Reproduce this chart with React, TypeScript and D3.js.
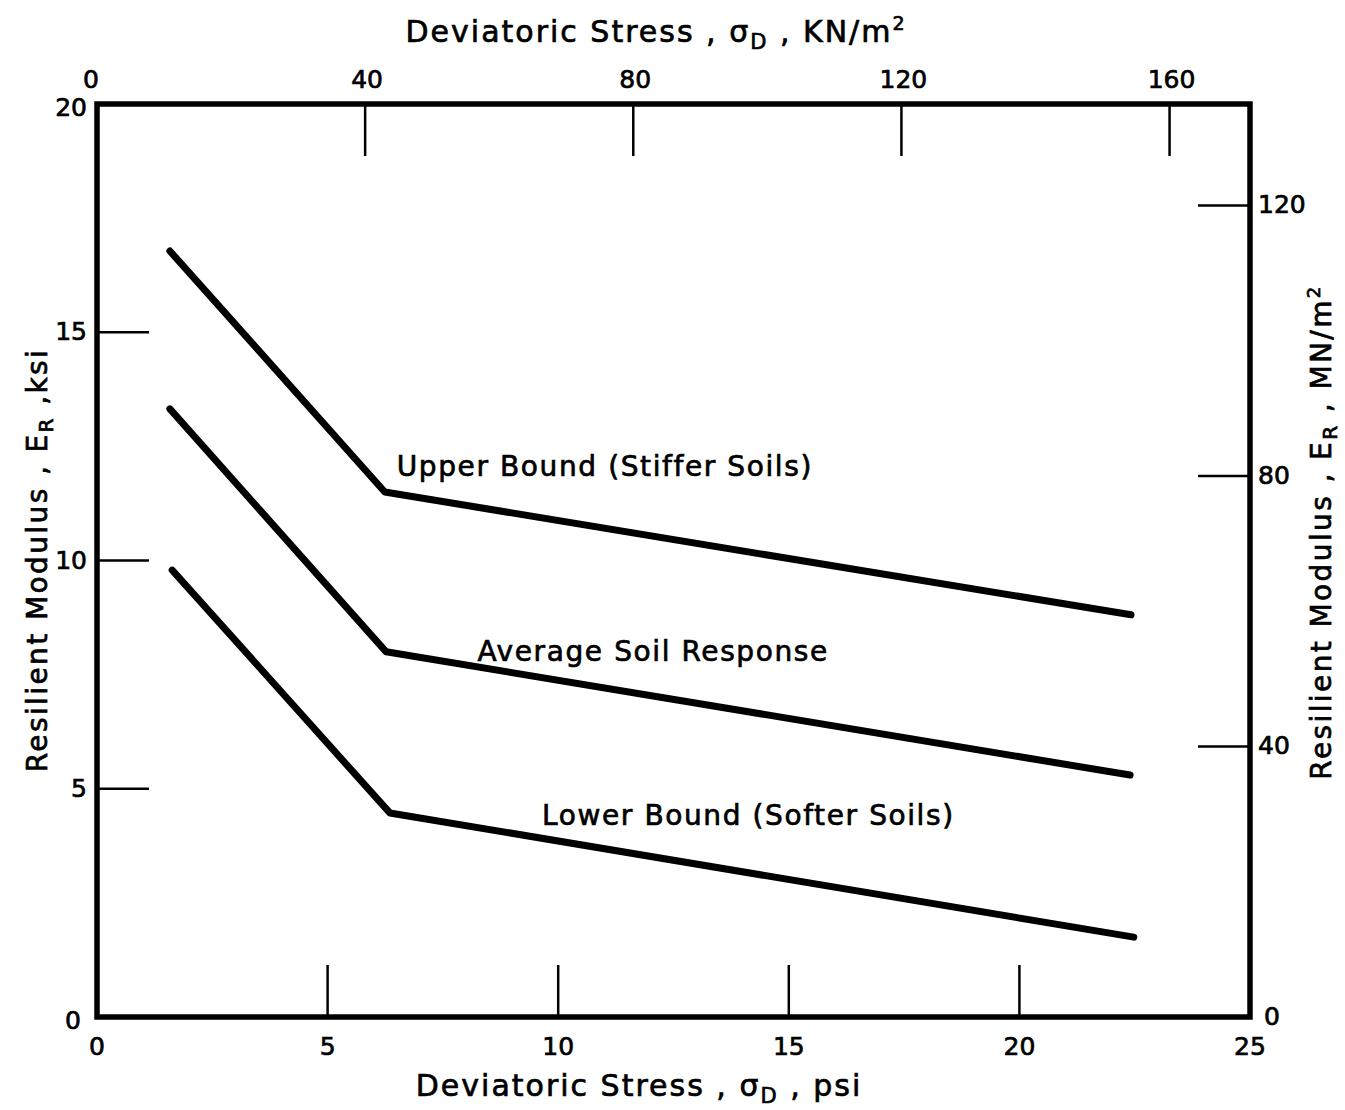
import React from 'react';
import * as d3 from 'd3';

// Deviatoric stress (psi) break points and resilient modulus (ksi) for each curve
const seriesNames = ['Upper Bound (Stiffer Soils)', 'Average Soil Response', 'Lower Bound (Softer Soils)'];
const stressPsi = [
  [1.58, 6.24, 22.42],
  [1.58, 6.27, 22.4],
  [1.63, 6.35, 22.48],
];
const modulusKsi = [
  [16.78, 11.5, 8.81],
  [13.32, 8.0, 5.3],
  [9.79, 4.47, 1.75],
];

const psiTicks = [0, 5, 10, 15, 20, 25];
const kpaTicks = [0, 40, 80, 120, 160];
const ksiTicks = [0, 5, 10, 15, 20];
const mpaTicks = [0, 40, 80, 120];

const W = 1345;
const H = 1110;
const left = 97;
const right = 1250;
const top = 104;
const bottom = 1017;
const FONT = '"DejaVu Sans", sans-serif';

const App: React.FC = () => {
  const x = d3.scaleLinear().domain([0, 25]).range([left, right]);
  const xTop = d3.scaleLinear().domain([0, 172]).range([left, right]);
  const y = d3.scaleLinear().domain([0, 20]).range([bottom, top]);
  const yRight = d3.scaleLinear().domain([0, 135]).range([bottom, top]);

  const line = d3
    .line<[number, number]>()
    .x((d) => x(d[0]))
    .y((d) => y(d[1]));

  // label anchor (start x, baseline) in data units
  const labelPos = [
    { x: 6.5, y: 11.85 },
    { x: 8.25, y: 7.8 },
    { x: 9.65, y: 4.2 },
  ];

  const tickLen = 52;
  const ink = { stroke: '#000', strokeWidth: 0.7 };

  return (
    <svg
      width={W}
      height={H}
      style={{ position: 'absolute', left: 0, top: 0, background: '#fff' }}
      fontFamily={FONT}
    >
      <rect x={0} y={0} width={W} height={H} fill="#fff" />

      {/* inner ticks: bottom psi */}
      {psiTicks.slice(1, -1).map((t) => (
        <line key={'bt' + t} x1={x(t)} x2={x(t)} y1={bottom} y2={bottom - tickLen} stroke="#000" strokeWidth={2.5} />
      ))}
      {/* top kPa */}
      {kpaTicks.slice(1).map((t) => (
        <line key={'tt' + t} x1={xTop(t)} x2={xTop(t)} y1={top} y2={top + tickLen} stroke="#000" strokeWidth={2.5} />
      ))}
      {/* left ksi */}
      {ksiTicks.slice(1, -1).map((t) => (
        <line key={'lt' + t} x1={left} x2={left + tickLen} y1={y(t)} y2={y(t)} stroke="#000" strokeWidth={2.5} />
      ))}
      {/* right MPa */}
      {mpaTicks.slice(1).map((t) => (
        <line key={'rt' + t} x1={right} x2={right - tickLen} y1={yRight(t)} y2={yRight(t)} stroke="#000" strokeWidth={2.5} />
      ))}

      <rect x={left} y={top} width={right - left} height={bottom - top} fill="none" stroke="#000" strokeWidth={5.5} />

      {/* curves */}
      {stressPsi.map((xs, i) => (
        <path
          key={'s' + i}
          d={line(xs.map((v, j) => [v, modulusKsi[i][j]] as [number, number])) || ''}
          fill="none"
          stroke="#000"
          strokeWidth={7}
          strokeLinecap="round"
          strokeLinejoin="round"
        />
      ))}

      {seriesNames.map((n, i) => (
        <text key={'n' + i} x={x(labelPos[i].x)} y={y(labelPos[i].y)} fontSize={28} letterSpacing={1.6} {...ink}>
          {n}
        </text>
      ))}

      {/* tick labels */}
      <g fontSize={25} {...ink}>
        {psiTicks.map((t) => (
          <text key={'bl' + t} x={x(t)} y={bottom + 38} textAnchor="middle">
            {t}
          </text>
        ))}
        {kpaTicks.map((t) => (
          <text key={'tl' + t} x={xTop(t) + (t === 0 ? -6 : 2)} y={top - 16} textAnchor="middle">
            {t}
          </text>
        ))}
        {ksiTicks.map((t) => (
          <text
            key={'ll' + t}
            x={t === 0 ? left - 16 : left - 10}
            y={y(t) + (t === 0 ? 12 : t === 20 ? 12 : 8)}
            textAnchor="end"
          >
            {t}
          </text>
        ))}
        {mpaTicks.map((t) => (
          <text key={'rl' + t} x={t === 0 ? right + 14 : right + 8} y={yRight(t) + 8} textAnchor="start">
            {t}
          </text>
        ))}
      </g>

      {/* axis titles */}
      <text x={656} y={42} fontSize={30} textAnchor="middle" letterSpacing={2} {...ink}>
        Deviatoric Stress , σ<tspan fontSize={21} dy={7}>D</tspan>
        <tspan dy={-7}> , KN/m</tspan>
        <tspan fontSize={19} dy={-12}>2</tspan>
      </text>
      <text x={639} y={1096} fontSize={30} textAnchor="middle" letterSpacing={2} {...ink}>
        Deviatoric Stress , σ<tspan fontSize={21} dy={7}>D</tspan>
        <tspan dy={-7}> , psi</tspan>
      </text>
      <text transform="translate(47,560) rotate(-90)" fontSize={28} textAnchor="middle" letterSpacing={2.4} {...ink}>
        Resilient Modulus , E<tspan fontSize={20} dy={6}>R</tspan>
        <tspan dy={-6}> ,ksi</tspan>
      </text>
      <text transform="translate(1331,532) rotate(-90)" fontSize={28} textAnchor="middle" letterSpacing={2.4} {...ink}>
        Resilient Modulus , E<tspan fontSize={20} dy={6}>R</tspan>
        <tspan dy={-6}> , MN/m</tspan>
        <tspan fontSize={18} dy={-11}>2</tspan>
      </text>
    </svg>
  );
};

export default App;
